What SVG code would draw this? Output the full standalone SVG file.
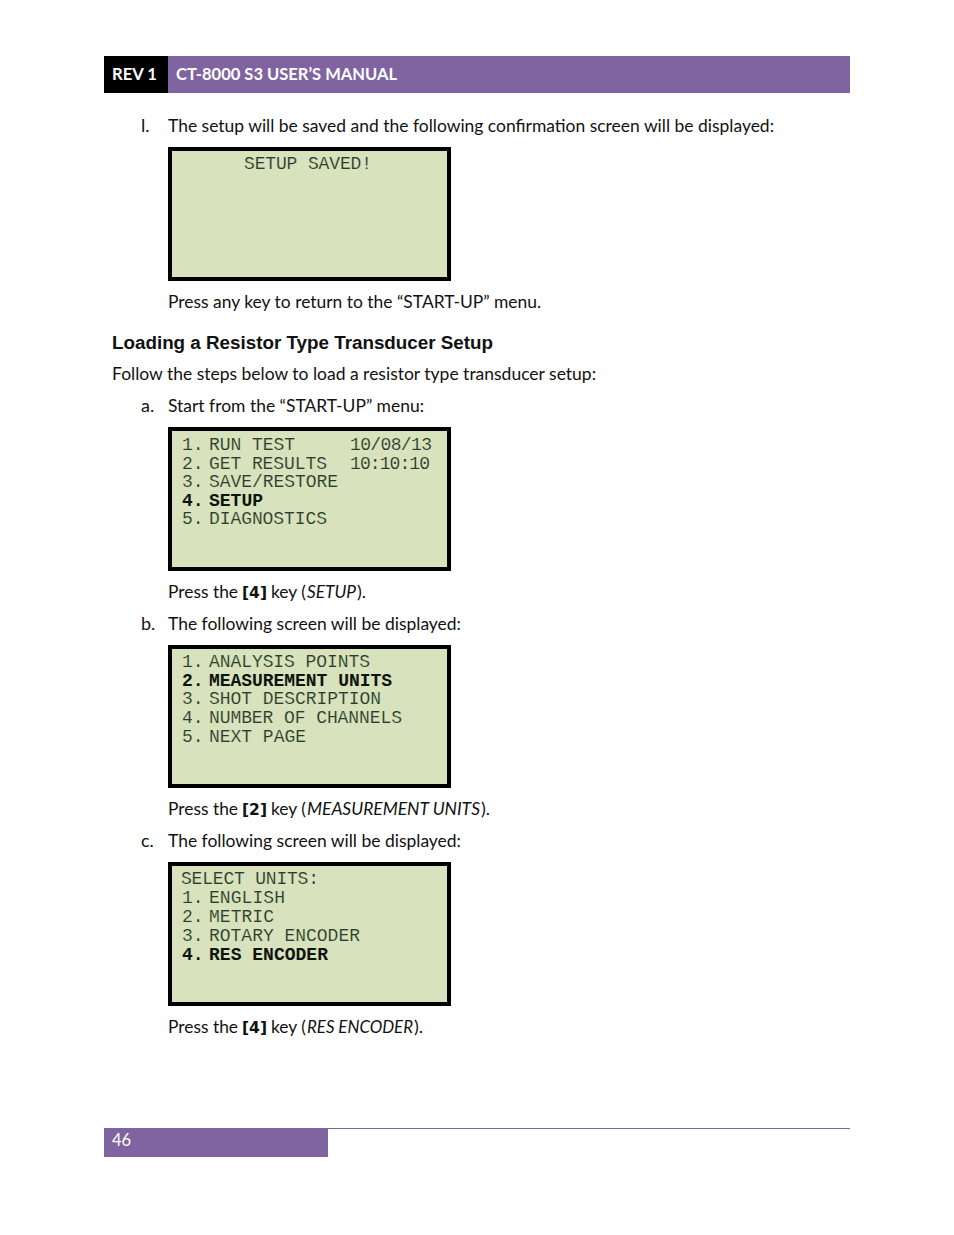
<svg xmlns="http://www.w3.org/2000/svg" width="954" height="1235" viewBox="0 0 954 1235">
<style>
.t{font-family:"Lato","Open Sans","Liberation Sans",sans-serif;font-size:18px;fill:#111}
.l{font-family:"Liberation Mono","DejaVu Sans Mono",monospace;font-size:18px;fill:#2b3a2b;stroke:#d8e2bd;stroke-width:0.15px}
.b{font-weight:bold;fill:#0c140c;stroke:none}
.s{fill:#d8e2bd;stroke:#000;stroke-width:4}
.k{font-family:"DejaVu Sans","Liberation Sans",sans-serif;font-weight:bold;font-size:16px;fill:#111}
.i{font-style:italic}
.n{font-size:16.8px}
</style>
<rect width="954" height="1235" fill="#fff"/>
<g id="header">
<rect x="104" y="56" width="64" height="37" fill="#000"/>
<rect x="168" y="56" width="682" height="37" fill="#8064a2"/>
<text x="112" y="80" textLength="45" lengthAdjust="spacingAndGlyphs" style="font-family:Lato,sans-serif;font-weight:bold;font-size:17.5px;fill:#fff">REV 1</text>
<text x="176" y="80" textLength="221" lengthAdjust="spacingAndGlyphs" style="font-family:Lato,sans-serif;font-weight:bold;font-size:17.5px;fill:#fff">CT-8000 S3 USER’S MANUAL</text>
</g>
<g id="text">
<text class="t" x="141" y="132">l.</text>
<text class="t" x="168" y="132" textLength="606" lengthAdjust="spacingAndGlyphs">The setup will be saved and the following confirmation screen will be displayed:</text>
<text class="t" x="168" y="308" textLength="373" lengthAdjust="spacingAndGlyphs">Press any key to return to the “START-UP” menu.</text>
<text x="112" y="349" textLength="381" lengthAdjust="spacingAndGlyphs" style="font-family:'Liberation Sans',Arial,sans-serif;font-weight:bold;font-size:18px;fill:#111">Loading a Resistor Type Transducer Setup</text>
<text class="t" x="112" y="380" textLength="484" lengthAdjust="spacingAndGlyphs">Follow the steps below to load a resistor type transducer setup:</text>
<text class="t" x="141" y="412">a.</text>
<text class="t" x="168" y="412" textLength="256" lengthAdjust="spacingAndGlyphs">Start from the “START-UP” menu:</text>
<text class="t" x="168" y="598" textLength="70" lengthAdjust="spacingAndGlyphs">Press the</text><text class="k" x="242" y="598" textLength="25" lengthAdjust="spacingAndGlyphs">[4]</text><text class="t" x="271" y="598" textLength="35" lengthAdjust="spacingAndGlyphs">key (</text><text class="t i" x="307" y="598" textLength="49" lengthAdjust="spacingAndGlyphs">SETUP</text><text class="t" x="357" y="598">).</text>
<text class="t" x="141" y="630">b.</text>
<text class="t" x="168" y="630" textLength="293" lengthAdjust="spacingAndGlyphs">The following screen will be displayed:</text>
<text class="t" x="168" y="815" textLength="70" lengthAdjust="spacingAndGlyphs">Press the</text><text class="k" x="242" y="815" textLength="25" lengthAdjust="spacingAndGlyphs">[2]</text><text class="t" x="271" y="815" textLength="35" lengthAdjust="spacingAndGlyphs">key (</text><text class="t i n" x="307" y="815" textLength="173" lengthAdjust="spacingAndGlyphs">MEASUREMENT UNITS</text><text class="t" x="481" y="815">).</text>
<text class="t" x="141" y="847">c.</text>
<text class="t" x="168" y="847" textLength="293" lengthAdjust="spacingAndGlyphs">The following screen will be displayed:</text>
<text class="t" x="168" y="1033" textLength="70" lengthAdjust="spacingAndGlyphs">Press the</text><text class="k" x="242" y="1033" textLength="25" lengthAdjust="spacingAndGlyphs">[4]</text><text class="t" x="271" y="1033" textLength="35" lengthAdjust="spacingAndGlyphs">key (</text><text class="t i n" x="307" y="1033" textLength="106" lengthAdjust="spacingAndGlyphs">RES ENCODER</text><text class="t" x="414" y="1033">).</text>
</g>
<g id="screen-saved">
<rect class="s" x="170" y="149" width="279" height="130"/>
<text class="l" x="244" y="169" textLength="128">SETUP SAVED!</text>
</g>
<g id="screen-startup">
<rect class="s" x="170" y="429" width="279" height="140"/>
<text class="l" x="182" y="449.5">1.</text><text class="l" x="209" y="449.5" textLength="86">RUN TEST</text><text class="l" x="350" y="449.5" textLength="82">10/08/13</text>
<text class="l" x="182" y="468.5">2.</text><text class="l" x="209" y="468.5" textLength="118">GET RESULTS</text><text class="l" x="350" y="468.5" textLength="80">10:10:10</text>
<text class="l" x="182" y="486.5">3.</text><text class="l" x="209" y="486.5" textLength="129">SAVE/RESTORE</text>
<text class="l b" x="182" y="505.5">4.</text><text class="l b" x="209" y="505.5" textLength="54">SETUP</text>
<text class="l" x="182" y="523.5">5.</text><text class="l" x="209" y="523.5" textLength="118">DIAGNOSTICS</text>
</g>
<g id="screen-setup">
<rect class="s" x="170" y="647" width="279" height="139"/>
<text class="l" x="182" y="666.5">1.</text><text class="l" x="209" y="666.5" textLength="161">ANALYSIS POINTS</text>
<text class="l b" x="182" y="685.5">2.</text><text class="l b" x="209" y="685.5" textLength="183">MEASUREMENT UNITS</text>
<text class="l" x="182" y="703.5">3.</text><text class="l" x="209" y="703.5" textLength="172">SHOT DESCRIPTION</text>
<text class="l" x="182" y="722.5">4.</text><text class="l" x="209" y="722.5" textLength="193">NUMBER OF CHANNELS</text>
<text class="l" x="182" y="741.5">5.</text><text class="l" x="209" y="741.5" textLength="97">NEXT PAGE</text>
</g>
<g id="screen-units">
<rect class="s" x="170" y="864" width="279" height="140"/>
<text class="l" x="181" y="883.5" textLength="138">SELECT UNITS:</text>
<text class="l" x="182" y="902.5">1.</text><text class="l" x="209" y="902.5" textLength="76">ENGLISH</text>
<text class="l" x="182" y="921.5">2.</text><text class="l" x="209" y="921.5" textLength="65">METRIC</text>
<text class="l" x="182" y="940.5">3.</text><text class="l" x="209" y="940.5" textLength="151">ROTARY ENCODER</text>
<text class="l b" x="182" y="959.5">4.</text><text class="l b" x="209" y="959.5" textLength="119">RES ENCODER</text>
</g>
<g id="footer">
<rect x="104" y="1128" width="224" height="29" fill="#8064a2"/>
<rect x="328" y="1128" width="522" height="1" fill="#8064a2"/>
<text x="112" y="1146" style="font-family:Lato,sans-serif;font-size:16.5px;fill:#fff">46</text>
</g>
</svg>
